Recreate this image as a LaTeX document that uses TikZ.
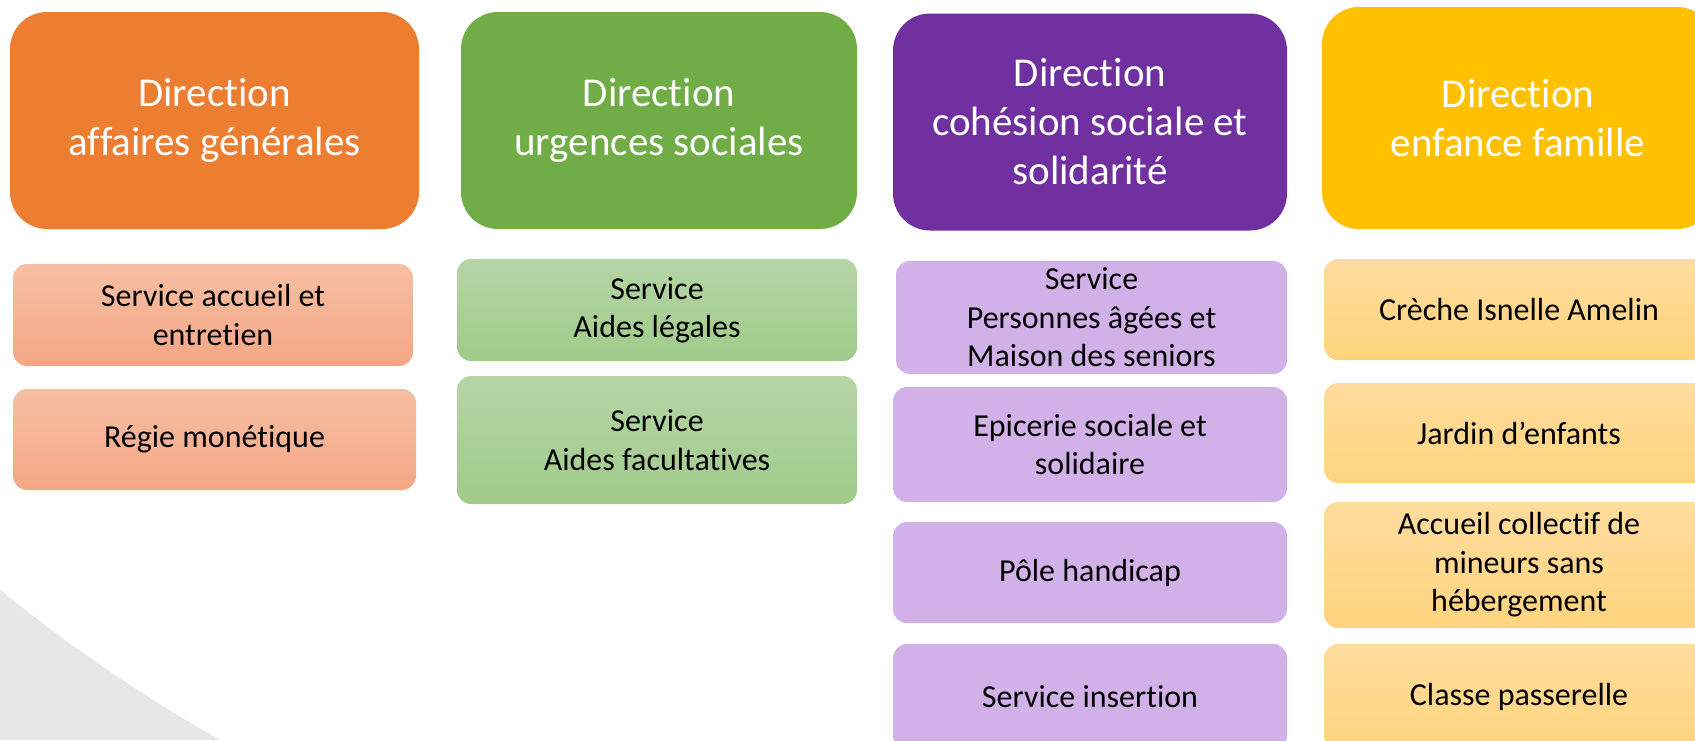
\documentclass[tikz,border=0pt]{standalone}
\usepackage{fontspec}
\setmainfont{Carlito}[Ligatures={NoCommon,NoContextual}]

\definecolor{orgdir}{HTML}{ED7D31}
\definecolor{grndir}{HTML}{70AD47}
\definecolor{purdir}{HTML}{7030A0}
\definecolor{ylwdir}{HTML}{FFC000}
\definecolor{orgtop}{HTML}{F6BFA4}
\definecolor{orgbot}{HTML}{F4A785}
\definecolor{grntop}{HTML}{B5D5A6}
\definecolor{grnbot}{HTML}{A0CB8A}
\definecolor{pursrv}{HTML}{D1B1E7}
\definecolor{ylwtop}{HTML}{FFDC9E}
\definecolor{ylwbot}{HTML}{FFD47E}
\definecolor{bggrey}{HTML}{E7E7E7}

\tikzset{dir/.style={rounded corners=37pt, inner sep=0pt, align=center, text=white, font=\fontsize{41}{49}\selectfont}}
\tikzset{srv/.style={rounded corners=14pt, inner sep=0pt, align=center, text=black, font=\fontsize{32}{38.5}\selectfont}}

\begin{document}
\begin{tikzpicture}[x=1pt,y=-1pt]

  \useasboundingbox (0,0) rectangle (1695,740);
  \clip (0,0) rectangle (1695,740);

  % grey corner behind
  \fill[bggrey] (0,540) rectangle (300,740);
  \fill[white] (991,-627) circle[radius=1569pt];

  % directions
  \node[dir, fill=orgdir, minimum width=409, minimum height=217] (dirag) at (214.5,120.5) {Direction\\affaires générales};
  \node[dir, fill=grndir, minimum width=396, minimum height=217] (dirus) at (659,120.5) {Direction\\urgences sociales};
  \node[dir, fill=purdir, minimum width=394, minimum height=217] (dircs) at (1090,122) {Direction\\cohésion sociale et\\solidarité};
  \node[dir, fill=ylwdir, minimum width=392, minimum height=222] (diref) at (1518,118) {Direction\\enfance famille};

  % services
  \node[srv, top color=orgtop, bottom color=orgbot, minimum width=400, minimum height=102] (accueil) at (213,315) {Service accueil et\\entretien};
  \node[srv, top color=orgtop, bottom color=orgbot, minimum width=403, minimum height=101] (regie) at (214.5,439.5) {Régie monétique};

  \node[srv, top color=grntop, bottom color=grnbot, minimum width=400, minimum height=102] (legales) at (657,310) {Service\\Aides légales};
  \node[srv, top color=grntop, bottom color=grnbot, minimum width=400, minimum height=128] (facult) at (657,440) {Service\\Aides facultatives};

  \node[srv, fill=pursrv, minimum width=391, minimum height=113] (seniors) at (1091.5,317.5) {Service\\Personnes âgées et\\Maison des seniors};
  \node[srv, fill=pursrv, minimum width=394, minimum height=115] (epicerie) at (1090,444.5) {Epicerie sociale et\\solidaire};
  \node[srv, fill=pursrv, minimum width=394, minimum height=101] (handicap) at (1090,572.5) {Pôle handicap};
  \node[srv, fill=pursrv, minimum width=394, minimum height=106] (insertion) at (1090,697) {Service insertion};

  \node[srv, top color=ylwtop, bottom color=ylwbot, minimum width=390, minimum height=101] (creche) at (1519,309.5) {Crèche Isnelle Amelin};
  \node[srv, top color=ylwtop, bottom color=ylwbot, minimum width=390, minimum height=100] (jardin) at (1519,433) {Jardin d’enfants};
  \node[srv, top color=ylwtop, bottom color=ylwbot, minimum width=390, minimum height=126] (accmin) at (1519,565) {Accueil collectif de\\mineurs sans\\hébergement};
  \node[srv, top color=ylwtop, bottom color=ylwbot, minimum width=390, minimum height=106] (passer) at (1519,697) {Classe passerelle};
\end{tikzpicture}
\end{document}
